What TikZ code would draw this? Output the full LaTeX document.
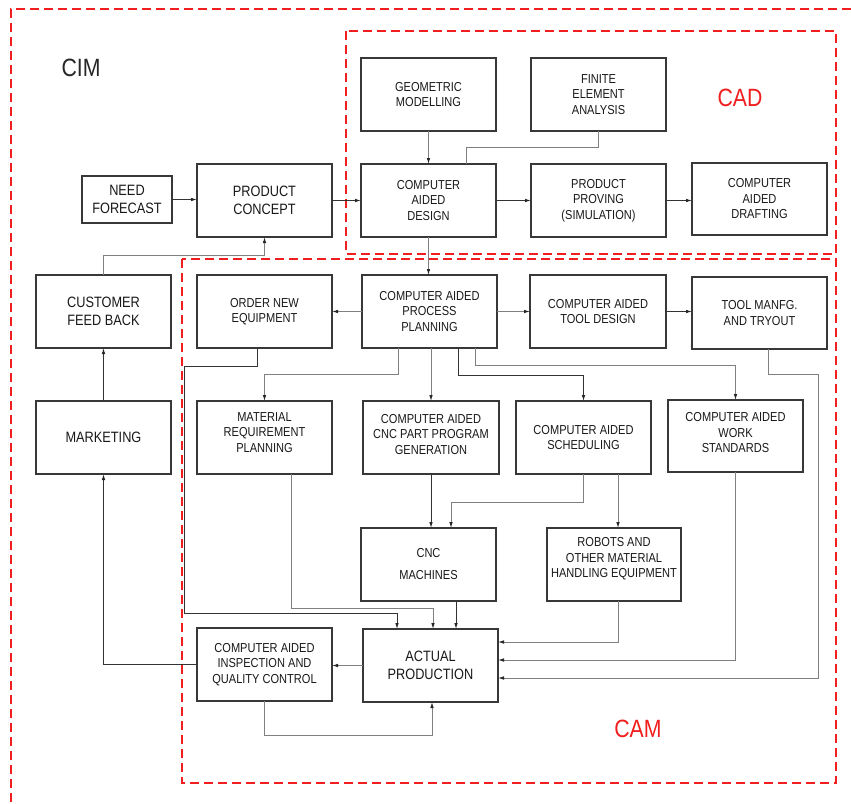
\documentclass[tikz,border=0pt]{standalone}
\usepackage{fontspec}
\setmainfont{Liberation Sans}[FakeStretch=0.85]
\usetikzlibrary{arrows.meta}
\definecolor{frame}{RGB}{240,30,30}
\tikzset{
  box/.style={draw=black!78, line width=1.1pt, inner sep=0pt, outer sep=0pt, align=center,
    text=black!90, font=\fontsize{13}{15.5}\selectfont, minimum width=135, minimum height=73},
  boxtxt/.style={align=center, text=black!90, font=\fontsize{13}{15.5}\selectfont, inner sep=0pt},
  bigtxt/.style={font=\fontsize{15}{18}\selectfont},
  ln/.style={draw=black!50, line width=0.9pt},
  lnd/.style={draw=black!80, line width=0.9pt},
  ar/.style={-{Latex[length=6pt,width=3.6pt,color=black!85]}},
  grp/.style={draw=frame, line width=1.1pt, dash pattern=on 9pt off 5pt},
  grplabel/.style={font=\fontsize{25}{28}\selectfont}
}
\begin{document}
\begin{tikzpicture}[x=1pt,y=-1pt]
\useasboundingbox (0,0) rectangle (851,803);
\fill[white] (0,0) rectangle (851,803);
% group frames
\draw[grp] (851,9) -- (11,9) -- (11,803);
\draw[grp] (346,31) rectangle (836,254);
\draw[grp] (182,259) rectangle (836,783);
\node[grplabel, text=black!85] (cim) at (81,68) {CIM};
\node[grplabel, text=frame] (cadl) at (740,98) {CAD};
\node[grplabel, text=frame] (caml) at (638,729) {CAM};
% boxes
\node[box, bigtxt, minimum width=90, minimum height=47] (need) at (127,199.5) {NEED\\FORECAST};
\node[box, bigtxt] (pc) at (264.5,200.5) {PRODUCT\\CONCEPT};
\node[box] (geo) at (428.5,94.5) {GEOMETRIC\\MODELLING};
\node[box] (fea) at (598.5,94.5) {FINITE\\ELEMENT\\ANALYSIS};
\node[box] (cad) at (428.5,200.5) {COMPUTER\\AIDED\\DESIGN};
\node[box] (prov) at (598.5,200.5) {PRODUCT\\PROVING\\(SIMULATION)};
\node[box, minimum height=72] (draft) at (759.5,199) {COMPUTER\\AIDED\\DRAFTING};
\node[box, bigtxt] (cfb) at (103.5,311.5) {CUSTOMER\\FEED BACK};
\node[box] (order) at (264.5,311.5) {ORDER NEW\\EQUIPMENT};
\node[box] (capp) at (429.5,311.5) {COMPUTER AIDED\\PROCESS\\PLANNING};
\node[box, minimum width=136] (ctd) at (598,311.5) {COMPUTER AIDED\\TOOL DESIGN};
\node[box, minimum height=72] (tm) at (759.5,313) {TOOL MANFG.\\AND TRYOUT};
\node[box, bigtxt] (mkt) at (103.5,437.5) {MARKETING};
\node[box, label={[boxtxt, yshift=5]center:{MATERIAL\\REQUIREMENT\\PLANNING}}] (mrp) at (264.5,437.5) {};
\node[box, minimum width=136, label={[boxtxt, yshift=3]center:{COMPUTER AIDED\\CNC PART PROGRAM\\GENERATION}}] (cncp) at (431,437.5) {};
\node[box] (sch) at (583.5,437.5) {COMPUTER AIDED\\SCHEDULING};
\node[box, minimum height=72, label={[boxtxt, yshift=3]center:{COMPUTER AIDED\\WORK\\STANDARDS}}] (ws) at (735.5,436) {};
\node[box, font=\fontsize{13}{22}\selectfont] (cncm) at (428.5,564.5) {CNC\\MACHINES};
\node[box, minimum width=134, label={[boxtxt, yshift=5.5]center:{ROBOTS AND\\OTHER MATERIAL\\HANDLING EQUIPMENT}}] (rob) at (614,564.5) {};
\node[box] (insp) at (264.5,664.5) {COMPUTER AIDED\\INSPECTION AND\\QUALITY CONTROL};
\node[box, bigtxt] (ap) at (430.5,665.5) {ACTUAL\\PRODUCTION};
% connectors (CAD)
\draw[lnd, ar] (need.east) -- (need.east -| pc.west);
\draw[lnd, ar] (pc.east) -- (cad.west);
\draw[ln, ar] (geo.south) -- (cad.north);
\draw[ln] (fea.south) -- ++(0,16) -| ([xshift=37.5]cad.north);
\draw[lnd, ar] (cad.east) -- (prov.west);
\draw[lnd, ar] (prov.east) -- (prov.east -| draft.west);
\draw[ln, ar] (cad.south) -- (cad.south |- capp.north);
% left column
\draw[ln, ar] (cfb.north) -- ++(0,-20) -| (pc.south);
\draw[lnd, ar] (mkt.north) -- (cfb.south);
\draw[lnd, ar] (insp.west) -| (mkt.south);
% CAM
\draw[ln, ar] (capp.west) -- (order.east);
\draw[ln, ar] (capp.east) -- (ctd.west);
\draw[lnd, ar] (ctd.east) -- (ctd.east -| tm.west);
\draw[ln, ar] ([xshift=-31.5]capp.south) -- ++(0,26) -| (mrp.north);
\draw[ln, ar] (capp.south -| cncp.north) -- (cncp.north);
\draw[lnd, ar] ([xshift=28.5]capp.south) -- ++(0,27) -| (sch.north);
\draw[ln, ar] ([xshift=45.5]capp.south) -- ++(0,17) -| (ws.north);
\draw[lnd, ar] ([xshift=-7.5]order.south) -- ++(0,18) -- ++(-73,0) -- ++(0,247) -| ([xshift=-33.5]ap.north);
\draw[ln, ar] ([xshift=26.5]mrp.south) -- ++(0,134) -| ([xshift=2.5]ap.north);
\draw[lnd, ar] (cncp.south) -- (cncp.south |- cncm.north);
\draw[ln, ar] (sch.south) -- ++(0,28) -| ([xshift=22.5]cncm.north);
\draw[ln, ar] ([xshift=34.5]sch.south) -- ([xshift=34.5]sch.south |- rob.north);
\draw[lnd, ar] ([xshift=27.5]cncm.south) -- ([xshift=27.5]cncm.south |- ap.north);
\draw[ln, ar] ([xshift=4]rob.south) |- ([yshift=23.5]ap.east);
\draw[ln, ar] (ws.south) |- ([yshift=5.5]ap.east);
\draw[ln, ar] ([xshift=8.5]tm.south) -- ++(0,25) -- ++(50,0) |- ([yshift=-12.5]ap.east);
\draw[ln, ar] (ap.west) -- (ap.west -| insp.east);
\draw[ln, ar] (insp.south) -- ++(0,34) -| ([xshift=1.5]ap.south);
\end{tikzpicture}
\end{document}
